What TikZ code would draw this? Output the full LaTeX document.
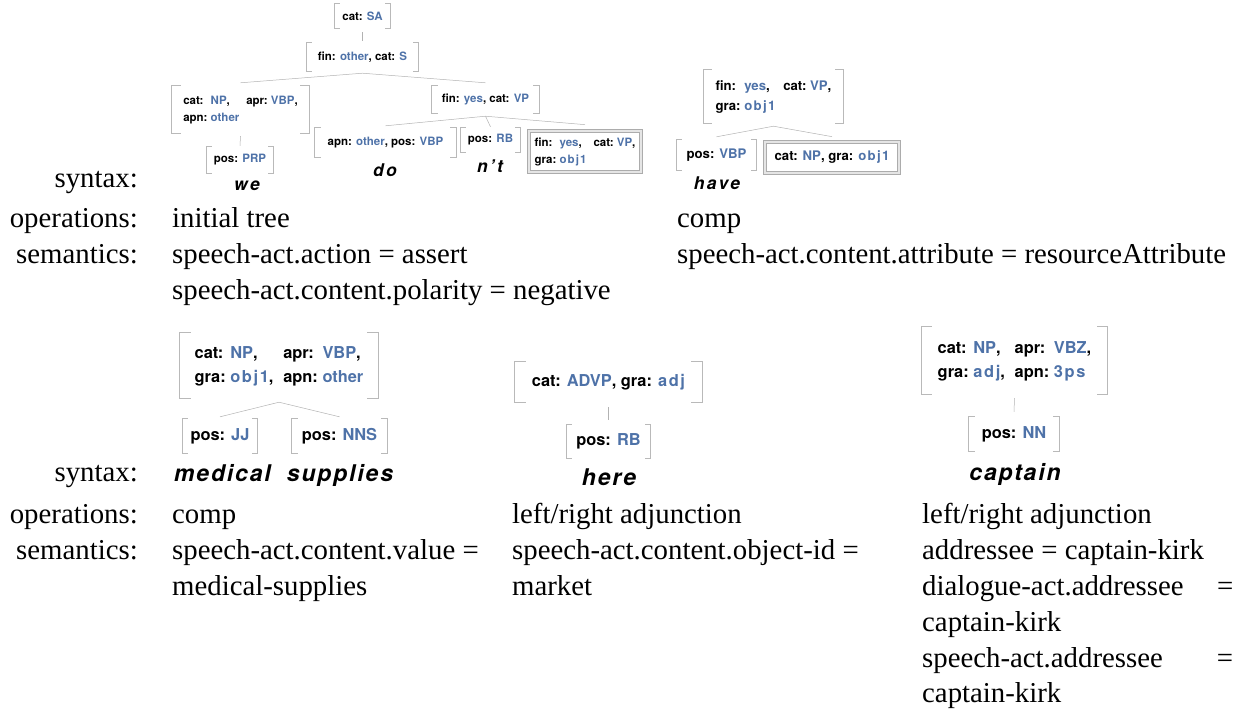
\documentclass[tikz,border=0pt]{standalone}
\usepackage{fontspec}
\setmainfont{Liberation Serif}
\newfontfamily\hv{TeX Gyre Heros}
\newfontfamily\hvw[LetterSpace=14]{TeX Gyre Heros}
\newfontfamily\hvx[LetterSpace=8]{TeX Gyre Heros}
\newfontfamily\hvs[LetterSpace=10]{TeX Gyre Heros}
\definecolor{valblue}{RGB}{78,114,168}
\newcommand\kk[1]{\textbf{#1:}}
\newcommand\vv[1]{{\bfseries\color{valblue}#1}}
\newcommand\vs[1]{{\hvs\bfseries\color{valblue}#1}}
\newcommand\cm{\textbf{,}}
\newcommand\tb[1]{\begin{tabular}{@{}l@{\ }l@{\hspace{0.6em}}l@{\ }l@{}}#1\end{tabular}}
\newcommand\serifsz{\fontsize{28.8}{34}\selectfont}
\newcommand\fsbrk[2]{%
  \draw[brk] ([xshift=#2pt]#1.north west) -- (#1.north west) -- (#1.south west) -- ([xshift=#2pt]#1.south west);
  \draw[brk] ([xshift=-#2pt]#1.north east) -- (#1.north east) -- (#1.south east) -- ([xshift=-#2pt]#1.south east);}
\begin{document}
\begin{tikzpicture}[x=1pt,y=-1pt,
  lab/.style={anchor=base east, inner sep=0, font=\serifsz},
  txt/.style={anchor=base west, inner sep=0, font=\serifsz},
  fa/.style={inner sep=0, font=\hv\fontsize{11.5}{17}\selectfont},
  fb/.style={inner sep=0, font=\hv\fontsize{13.2}{20}\selectfont},
  fc/.style={inner sep=0, font=\hv\fontsize{16.4}{24}\selectfont},
  sub/.style={draw=gray!65, double=gray!20, double distance=2.2pt, line width=0.7pt},
  brk/.style={draw=gray!55, line width=0.8pt},
  edge/.style={draw=gray!60, line width=0.5pt},
  wa/.style={inner sep=0, anchor=base, font=\hvw\bfseries\itshape\fontsize{17.5}{19}\selectfont},
  wc/.style={inner sep=0, anchor=base, font=\hvx\bfseries\itshape\fontsize{23}{25}\selectfont}]
\useasboundingbox (0,0) rectangle (1243,710);

% ---------- tree 1 ----------
\node[fa, minimum width=55, minimum height=24] (a1) at (362.5,16) {\kk{cat} \vv{SA}};
\node[fa, minimum width=111, minimum height=28] (a2) at (362.5,57) {\kk{fin} \vv{other}\cm{} \kk{cat} \vv{S}};
\node[fa, minimum width=137, minimum height=47] (a3) at (240.5,109.5) {\tb{\kk{cat} & \vv{NP}\cm & \kk{apr} & \vv{VBP}\cm \\ \kk{apn} & \vv{other} & & }};
\node[fa, minimum width=66, minimum height=26] (a4) at (240,160) {\kk{pos} \vv{PRP}};
\node[fa, minimum width=107, minimum height=27] (a5) at (485.5,99.5) {\kk{fin} \vv{yes}\cm{} \kk{cat} \vv{VP}};
\node[fa, minimum width=141, minimum height=29] (a6) at (385.5,142.5) {\kk{apn} \vv{other}\cm{} \kk{pos} \vv{VBP}};
\node[fa, minimum width=59, minimum height=24] (a7) at (490.5,140) {\kk{pos} \vv{RB}};
\node[fa, sub, minimum width=112, minimum height=41] (a8) at (585,151.5) {\tb{\kk{fin} & \vv{yes}\cm & \kk{cat} & \vv{VP}\cm \\ \kk{gra} & \vs{obj1} & & }};
\node[wa] (w1) at (247,190) {we};
\node[wa] (w2) at (385,176) {do};
\node[wa] (w3) at (490,172) {n’t};

\draw[edge] ([yshift=-4pt]a1.south) -- ([yshift=2pt]a2.north);
\draw[edge] ([yshift=-2pt]a2.south) -- ([yshift=3pt]a3.north);
\draw[edge] ([yshift=-2pt]a2.south) -- ([yshift=3pt]a5.north);
\draw[edge] ([yshift=-3pt]a3.south) -- ([yshift=1pt]a4.north);
\draw[edge] ([yshift=-3pt]a5.south) -- ([yshift=2pt]a6.north);
\draw[edge] ([yshift=-3pt]a5.south) -- ([yshift=1pt]a7.north);
\draw[edge] ([yshift=-3pt]a5.south) -- ([yshift=6pt]a8.north);

% ---------- tree 2 ----------
\node[fb, minimum width=139, minimum height=53] (b1) at (773.5,96.5) {\tb{\kk{fin} & \vv{yes}\cm & \kk{cat} & \vv{VP}\cm \\ \kk{gra} & \vs{obj1} & & }};
\node[fb, minimum width=79, minimum height=30] (b2) at (716.5,155) {\kk{pos} \vv{VBP}};
\node[fb, sub, minimum width=134, minimum height=31] (b3) at (832,157.5) {\kk{cat} \vv{NP}\cm{} \kk{gra} \vs{obj1}};
\node[wa] (w4) at (717,189) {have};
\draw[edge] ([yshift=-3pt]b1.south) -- ([yshift=3pt]b2.north);
\draw[edge] ([yshift=-3pt]b1.south) -- ([yshift=5pt]b3.north);

% ---------- tree 3 ----------
\node[fc, minimum width=198, minimum height=65] (c1) at (279,365.5) {\tb{\kk{cat} & \vv{NP}\cm & \kk{apr} & \vv{VBP}\cm \\ \kk{gra} & \vs{obj1}\cm & \kk{apn} & \vv{other}}};
\node[fc, minimum width=74, minimum height=34] (c2) at (220,436) {\kk{pos} \vv{JJ}};
\node[fc, minimum width=95, minimum height=34] (c3) at (339.5,436) {\kk{pos} \vv{NNS}};
\node[wc] (w5) at (222.5,481) {medical};
\node[wc] (w6) at (340,481) {supplies};
\draw[edge] ([yshift=-4pt]c1.south) -- ([yshift=2pt]c2.north);
\draw[edge] ([yshift=-4pt]c1.south) -- ([yshift=2pt]c3.north);

% ---------- tree 4 ----------
\node[fc, minimum width=187, minimum height=40] (d1) at (608.5,382) {\kk{cat} \vv{ADVP}\cm{} \kk{gra} \vs{adj}};
\node[fc, minimum width=83, minimum height=33] (d2) at (608.5,441.5) {\kk{pos} \vv{RB}};
\node[wc] (w7) at (609,485) {here};
\draw[edge] ([yshift=-5pt]d1.south) -- ([yshift=5pt]d2.north);

% ---------- tree 5 ----------
\node[fc, minimum width=185, minimum height=67] (e1) at (1014.5,360.5) {\tb{\kk{cat} & \vv{NP}\cm & \kk{apr} & \vv{VBZ}\cm \\ \kk{gra} & \vs{adj}\cm & \kk{apn} & \vs{3ps}}};
\node[fc, minimum width=90, minimum height=34] (e2) at (1014,434) {\kk{pos} \vv{NN}};
\node[wc] (w8) at (1015,480) {captain};
\draw[edge] ([yshift=-4pt]e1.south) -- ([yshift=5pt]e2.north);

\foreach \n/\t in {a1/5,a2/5,a3/9,a4/5,a5/6,a6/6,a7/5,b1/8,b2/5,c1/11,c2/5,c3/6,d1/11,d2/5,e1/10,e2/6} {\fsbrk{\n}{\t}}

% ---------- labels, upper ----------
\node[lab] (l1) at (138,187) {syntax:};
\node[lab] (l2) at (138,227) {operations:};
\node[lab] (l3) at (138,263) {semantics:};
\node[txt] (t1) at (172,227) {initial tree};
\node[txt] (t2) at (172,263) {speech-act.action = assert};
\node[txt] (t3) at (172,299) {speech-act.content.polarity = negative};
\node[txt] (t4) at (677,227) {comp};
\node[txt] (t5) at (677,263) {speech-act.content.attribute = resourceAttribute};

% ---------- labels, lower ----------
\node[lab] (l4) at (138,481) {syntax:};
\node[lab] (l5) at (138,523) {operations:};
\node[lab] (l6) at (138,559) {semantics:};
\node[txt] (u1) at (172,523) {comp};
\node[txt] (u2) at (172,559) {speech-act.content.value =};
\node[txt] (u3) at (172,595) {medical-supplies};
\node[txt] (v1) at (512,523) {left/right adjunction};
\node[txt] (v2) at (512,559) {speech-act.content.object-id =};
\node[txt] (v3) at (512,595) {market};
\node[txt] (x1) at (922,523) {left/right adjunction};
\node[txt] (x2) at (922,559) {addressee = captain-kirk};
\node[txt] (x3) at (922,595) {\hbox to 311pt{dialogue-act.addressee\hfill=}};
\node[txt] (x4) at (922,631) {captain-kirk};
\node[txt] (x5) at (922,667) {\hbox to 311pt{speech-act.addressee\hfill=}};
\node[txt] (x6) at (922,702) {captain-kirk};
\end{tikzpicture}
\end{document}
